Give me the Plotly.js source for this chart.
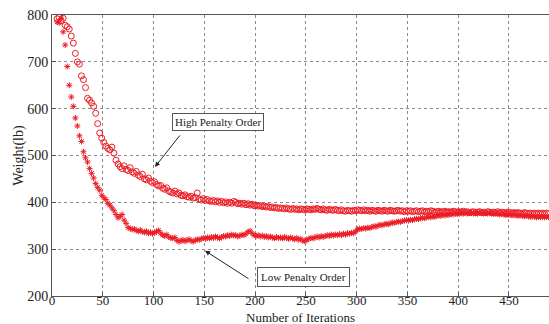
<!DOCTYPE html>
<html><head><meta charset="utf-8">
<script src="https://cdn.plot.ly/plotly-3.0.1.min.js"></script>
<style>html,body{margin:0;padding:0;background:#fff}</style>
</head><body><div id="chart" style="width:549px;height:324px"></div>
<script>
// iterations start at 5, step 2
const iterStart = 5, iterStep = 2;
const highPenalty = [
 792,795,788,793,778,775,770,755,740,718,
 700,695,670,662,645,622,618,612,605,590,
 568,548,537,528,520,515,512,518,505,490,
 482,476,472,478,470,468,474,465,462,466,
 458,455,460,450,448,452,445,442,444,438,
 435,436,430,428,431,424,422,420,424,418,
 420,415,414,416,412,411,413,409,410,420,
 407,405,408,404,406,403,402,404,401,403,
 400,402,399,401,398,400,398,402,400,397,
 398,396,398,395,397,394,396,393,394,392,
 393,391,392,390,391,389,390,388,389,387,
 388,387,386,388,386,385,387,385,386,384,
 386,385,384,386,385,384,386,385,387,385,
 384,386,384,383,385,384,383,385,383,382,
 384,382,381,383,382,381,383,382,384,383,
 382,384,382,383,381,383,382,381,383,382,
 381,383,382,381,383,382,381,382,383,381,
 382,380,382,381,382,380,381,382,380,381,
 382,380,381,380,382,381,379,380,381,379,
 380,381,379,380,379,381,380,379,380,379,
 381,379,380,378,379,380,378,379,380,378,
 379,378,380,379,378,379,378,380,378,379,
 378,377,379,378,377,378,377,378,377,376,
 378,377,376,377,376,377,376,377,376,377,
 376,377,376
];
const lowPenalty = [
 785,783,793,764,736,690,650,625,605,580,
 563,542,530,508,495,486,472,462,452,440,
 432,426,415,410,406,398,394,388,382,374,
 367,370,374,362,355,346,344,342,343,340,
 338,341,337,336,338,334,336,333,335,338,
 340,334,330,328,331,326,324,323,325,319,
 316,318,320,317,319,321,318,316,319,321,
 320,322,324,322,325,323,326,324,327,325,
 323,326,328,327,330,328,331,329,330,327,
 329,331,330,333,337,339,334,330,328,330,
 327,329,326,328,325,327,325,323,326,324,
 325,323,326,324,322,325,323,321,324,320,
 322,318,317,320,322,324,323,325,327,325,
 328,326,328,330,328,331,329,331,330,332,
 330,333,331,334,333,335,334,338,342,344,
 343,345,344,346,345,347,349,348,350,352,
 351,353,354,353,355,357,356,358,359,358,
 360,361,362,361,363,362,364,365,364,366,
 367,366,368,369,368,370,369,371,372,371,
 373,372,374,373,375,374,376,375,376,377,
 376,377,376,378,377,376,377,376,378,377,
 376,377,376,377,376,375,376,375,374,375,
 374,373,374,373,372,373,372,371,372,371,
 370,371,370,369,370,369,368,369,368,369,
 368,369,368
];
const xTicks = [0,50,100,150,200,250,300,350,400,450];
const yTicks = [200,300,400,500,600,700,800];
const labels = {high:'High Penalty Order', low:'Low Penalty Order', x:'Number of Iterations', y:'Weight(lb)'};

const red = 'rgb(236,28,36)';
const serif = 'Liberation Serif';
const traces = [
 {type:'scatter', mode:'markers', name:labels.high, y:highPenalty, x0:iterStart, dx:iterStep,
  marker:{symbol:'circle-open', size:6, color:red, line:{width:1, color:red}}},
 {type:'scatter', mode:'markers', name:labels.low, y:lowPenalty, x0:iterStart, dx:iterStep,
  marker:{symbol:'asterisk-open', size:5, color:red, line:{width:1, color:red}}}
];
const axisCommon = {
 showgrid:true, gridcolor:'#8a8a8a', griddash:'dot', gridwidth:1,
 showline:true, linecolor:'#555', linewidth:1, zeroline:false,
 ticks:'inside', ticklen:4, tickcolor:'#555',
 tickfont:{family:serif, size:14, color:'#222'}
};
const layout = {
 width:549, height:324, margin:{l:52, r:0, t:15, b:28},
 paper_bgcolor:'#fff', plot_bgcolor:'#fff', showlegend:false,
 font:{family:serif},
 xaxis:Object.assign({}, axisCommon, {range:[0,489.4], tickvals:xTicks, mirror:true, automargin:false,
   ticklabelstandoff:-8, tickfont:{family:serif, size:13, color:'#222'}}),
 yaxis:Object.assign({}, axisCommon, {range:[200,800], tickvals:yTicks, automargin:false, ticklabelstandoff:0}),
 annotations:[
  {x:0.5, y:-0.077, xref:'paper', yref:'paper', text:labels.x, showarrow:false,
   xanchor:'center', yanchor:'middle', font:{family:serif, size:13, color:'#222'}},
  {x:-0.068, y:0.5, xref:'paper', yref:'paper', text:labels.y, showarrow:false, textangle:-90,
   xanchor:'center', yanchor:'middle', font:{family:serif, size:14, color:'#222'}},
  {x:163.5, y:572.6, xref:'x', yref:'y', text:labels.high, showarrow:false,
   font:{family:serif, size:11, color:'#222'}, bordercolor:'#555', borderwidth:1, borderpad:2, bgcolor:'#fff'},
  {x:101.4, y:475.5, xref:'x', yref:'y', text:'', showarrow:true, ax:26, ay:-33,
   arrowhead:2, arrowsize:1, arrowwidth:1, arrowcolor:'#222'},
  {x:247.2, y:240.6, xref:'x', yref:'y', text:labels.low, showarrow:false,
   font:{family:serif, size:11, color:'#222'}, bordercolor:'#555', borderwidth:1, borderpad:3, bgcolor:'#fff'},
  {x:150.7, y:296.7, xref:'x', yref:'y', text:'', showarrow:true, ax:45, ay:29,
   arrowhead:2, arrowsize:1, arrowwidth:1, arrowcolor:'#222'}
 ]
};
Plotly.newPlot('chart', traces, layout, {displayModeBar:false, staticPlot:true});
</script></body></html>
